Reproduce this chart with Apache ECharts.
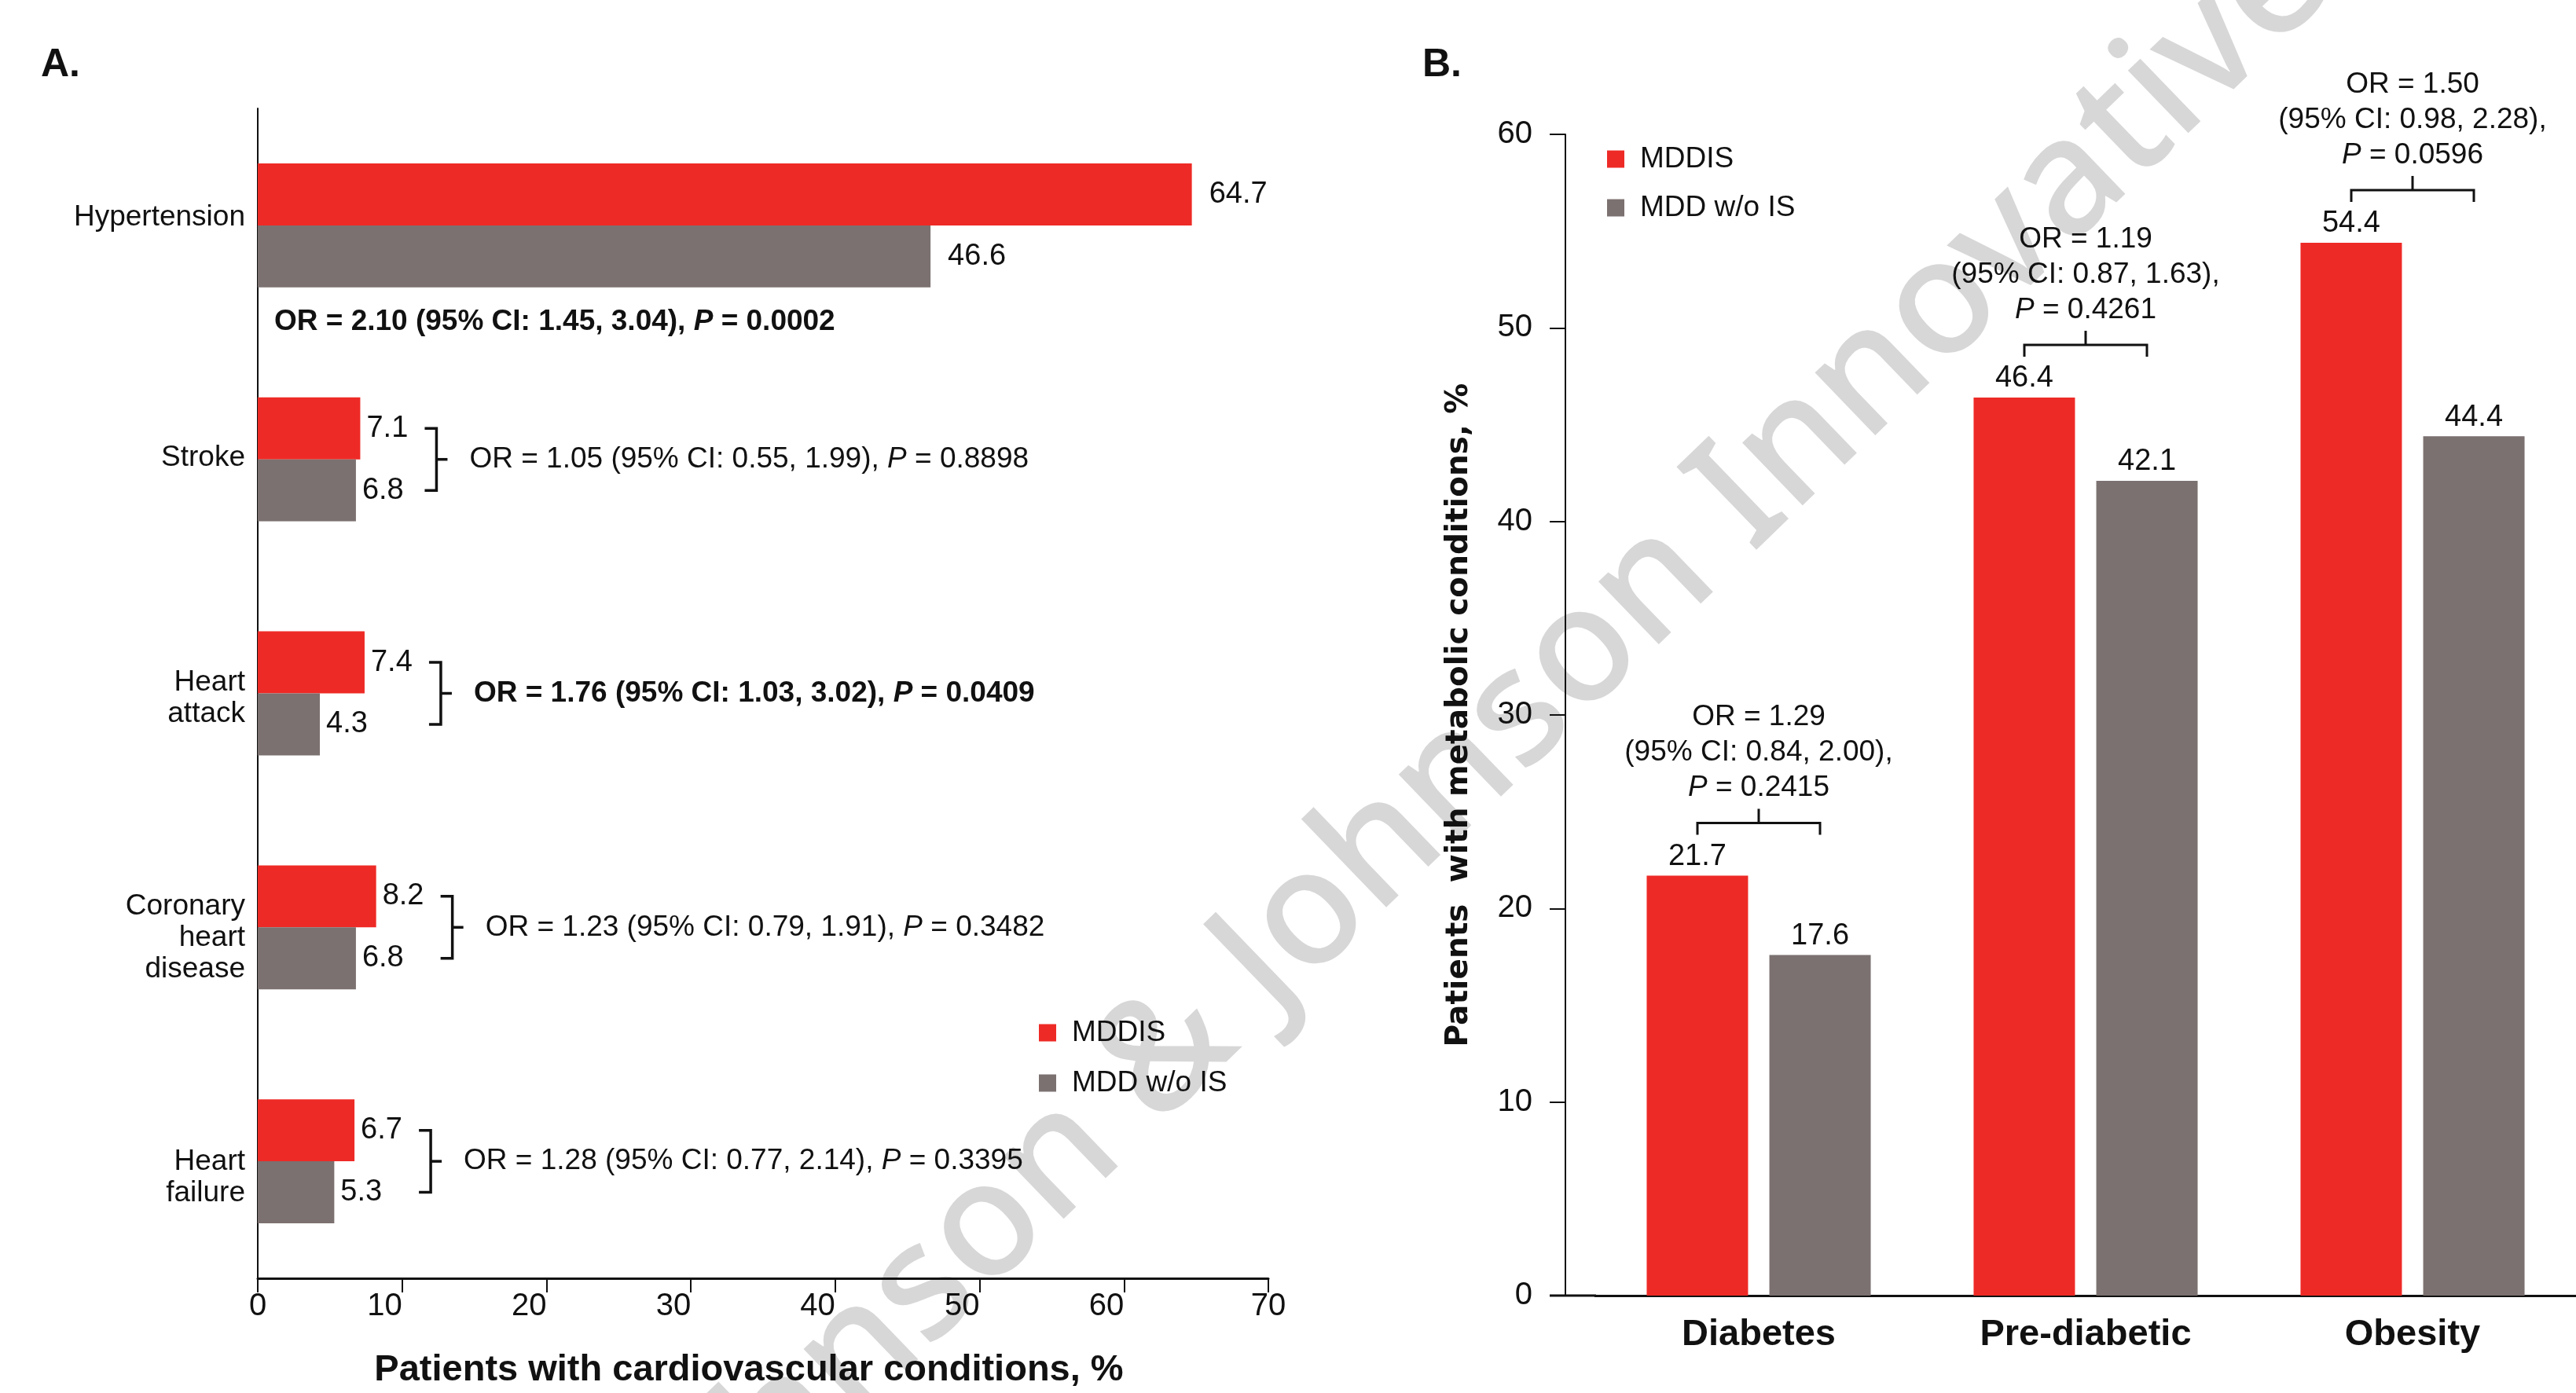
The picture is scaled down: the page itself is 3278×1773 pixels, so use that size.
<!DOCTYPE html>
<html>
<head>
<meta charset="utf-8">
<script src="https://cdn.jsdelivr.net/npm/echarts@6.0.0/dist/echarts.min.js"></script>
<style>
  html, body { margin: 0; padding: 0; background: #fff; }
  #chart { width: 3278px; height: 1773px; }
</style>
</head>
<body>
<div id="chart"></div>
<script>
// panel A: cardiovascular conditions
const catA = ['Hypertension', 'Stroke', 'Heart\nattack', 'Coronary\nheart\ndisease', 'Heart\nfailure'];
const mddisA = [64.7, 7.1, 7.4, 8.2, 6.7];
const mddA = [46.6, 6.8, 4.3, 6.8, 5.3];
const orA = [
  'OR = 2.10 (95% CI: 1.45, 3.04)',
  'OR = 1.05 (95% CI: 0.55, 1.99)',
  'OR = 1.76 (95% CI: 1.03, 3.02)',
  'OR = 1.23 (95% CI: 0.79, 1.91)',
  'OR = 1.28 (95% CI: 0.77, 2.14)'
];
const pA = ['0.0002', '0.8898', '0.0409', '0.3482', '0.3395'];
const boldA = [true, false, true, false, false];
const xTicksA = [0, 10, 20, 30, 40, 50, 60, 70];

// panel B: metabolic conditions
const catB = ['Diabetes', 'Pre-diabetic', 'Obesity'];
const mddisB = [21.7, 46.4, 54.4];
const mddB = [17.6, 42.1, 44.4];
const orB = ['OR = 1.29', 'OR = 1.19', 'OR = 1.50'];
const ciB = ['(95% CI: 0.84, 2.00),', '(95% CI: 0.87, 1.63),', '(95% CI: 0.98, 2.28),'];
const pB = ['0.2415', '0.4261', '0.0596'];
const yTicksB = [0, 10, 20, 30, 40, 50, 60];

const RED = '#EE2A26';
const GREY = '#7B7170';
const INK = '#111111';
const FONT = '"Liberation Sans", Arial, sans-serif';

// 水印
const WM_TEXT = 'Johnson & Johnson Innovative';
const WM_FONT = '"Noto Sans", sans-serif';
const WM_SIZE = 205;

function measure(str, font) {
  const ctx = document.createElement('canvas').getContext('2d');
  ctx.font = font;
  return ctx.measureText(str).width;
}
const wmFont = '500 ' + WM_SIZE + 'px ' + WM_FONT;
// offset so that the "&" sits on the anchor point
const wmShift = measure('Johnson ', wmFont) + measure('&', wmFont) / 2;

// category labels of panel A drift slightly downwards in the original
const catShift = i => Math.round(-10 + 7.75 * i);

const chart = echarts.init(document.getElementById('chart'));

// 类目标签 + 括号 + OR 文本 (panel A)
function renderOrA(params, api) {
  const i = params.dataIndex;
  const band = api.size([0, 1])[1];
  const half = band * 0.1325;
  const p = api.coord([api.value(0), api.value(1)]);
  const p0 = api.coord([0, i]);
  const w = boldA[i] ? 'bold' : 'normal';
  const rich = {
    t: { fontSize: 37, fontFamily: FONT, fontWeight: w, fill: INK },
    i: { fontSize: 37, fontFamily: FONT, fontWeight: w, fontStyle: 'italic', fill: INK }
  };
  const text = '{t|' + orA[i] + ', }{i|P}{t| = ' + pA[i] + '}';
  const children = [
    {
      type: 'text',
      style: {
        x: p0[0] - 16, y: p[1] + catShift(i), text: catA[i], fontSize: 37, lineHeight: 40,
        fontFamily: FONT, fill: INK, align: 'right', verticalAlign: 'middle'
      }
    }
  ];
  if (i === 0) {
    children.push({
      type: 'text',
      style: { x: p0[0] + 21, y: p[1] + band * 0.413, text: text, rich: rich, align: 'left', verticalAlign: 'middle' }
    });
    return { type: 'group', children: children };
  }
  const xb = p[0] + 97;
  children.push(
    {
      type: 'polyline',
      shape: { points: [[xb - 15, p[1] - half], [xb, p[1] - half], [xb, p[1] + half], [xb - 15, p[1] + half]] },
      style: { stroke: INK, lineWidth: 3.5, fill: null }
    },
    {
      type: 'line',
      shape: { x1: xb, y1: p[1], x2: xb + 14, y2: p[1] },
      style: { stroke: INK, lineWidth: 3.5 }
    },
    {
      type: 'text',
      style: { x: xb + 42, y: p[1], text: text, rich: rich, align: 'left', verticalAlign: 'middle' }
    }
  );
  return { type: 'group', children: children };
}

// 括号 + OR 文本 (panel B)
function renderOrB(params, api) {
  const i = params.dataIndex;
  const p = api.coord([api.value(0), api.value(1)]);
  const yb = p[1] - 67;
  const xl = p[0] - 78;
  const xr = p[0] + 78;
  const rich = {
    t: { fontSize: 37, fontFamily: FONT, fill: INK, lineHeight: 45 },
    i: { fontSize: 37, fontFamily: FONT, fontStyle: 'italic', fill: INK, lineHeight: 45 }
  };
  const text = '{t|' + orB[i] + '}\n{t|' + ciB[i] + '}\n{i|P}{t| = ' + pB[i] + '}';
  return {
    type: 'group',
    children: [
      {
        type: 'polyline',
        shape: { points: [[xl, yb + 15], [xl, yb], [xr, yb], [xr, yb + 15]] },
        style: { stroke: INK, lineWidth: 3, fill: null }
      },
      {
        type: 'line',
        shape: { x1: p[0], y1: yb, x2: p[0], y2: yb - 18 },
        style: { stroke: INK, lineWidth: 3 }
      },
      {
        type: 'text',
        style: { x: p[0], y: yb - 22, text: text, rich: rich, align: 'center', verticalAlign: 'bottom' }
      }
    ]
  };
}

const labelA = v => ({ value: v, label: { distance: v > 30 ? 22 : 8 } });

const option = {
  animation: false,
  backgroundColor: '#ffffff',
  textStyle: { fontFamily: FONT, color: INK },
  title: [
    { text: 'A.', left: 52, top: 58, padding: 0, textStyle: { fontSize: 50, fontWeight: 'bold', color: INK, fontFamily: FONT } },
    { text: 'B.', left: 1810, top: 58, padding: 0, textStyle: { fontSize: 50, fontWeight: 'bold', color: INK, fontFamily: FONT } }
  ],
  legend: [
    {
      data: ['MDDIS', 'MDD w/o IS'], orient: 'vertical', left: 1322, top: 1296, padding: 0,
      icon: 'rect', itemWidth: 22, itemHeight: 22, itemGap: 27, selectedMode: false,
      textStyle: { fontSize: 37, color: INK, fontFamily: FONT, padding: [0, 0, 0, 15] }
    },
    {
      data: ['MDDIS', 'MDD w/o IS'], orient: 'vertical', left: 2045, top: 184, padding: 0,
      icon: 'rect', itemWidth: 22, itemHeight: 22, itemGap: 25, selectedMode: false,
      textStyle: { fontSize: 37, color: INK, fontFamily: FONT, padding: [0, 0, 0, 15] }
    }
  ],
  graphic: [
    {
      type: 'group', x: 1486, y: 1342, rotation: 44 * Math.PI / 180, z: -10, silent: true,
      children: [
        {
          type: 'text', x: -wmShift, y: 0,
          style: { text: WM_TEXT, fontSize: WM_SIZE, fontWeight: 500, fontFamily: WM_FONT, fill: '#d6d7d6', align: 'left', verticalAlign: 'middle' }
        }
      ]
    },
    // x-axis line of panel B continues under the offset y-axis
    {
      type: 'line', z: 5, silent: true,
      shape: { x1: 1972, y1: 1649, x2: 2031, y2: 1649 },
      style: { stroke: INK, lineWidth: 3 }
    }
  ],
  grid: [
    { left: 328, top: 138, width: 1286, bottom: 137 },
    { left: 2030, top: 171, right: -6, bottom: 124 }
  ],
  xAxis: [
    {
      type: 'value', gridIndex: 0,
      min: xTicksA[0], max: xTicksA[xTicksA.length - 1], interval: 10,
      axisLine: { show: true, lineStyle: { color: INK, width: 3 } },
      axisTick: { show: true, length: 18, lineStyle: { color: INK, width: 2 } },
      splitLine: { show: false },
      axisLabel: {
        fontSize: 40, color: INK, margin: 16, fontFamily: FONT,
        align: 'right', alignMinLabel: 'center', alignMaxLabel: 'center'
      },
      name: 'Patients with cardiovascular conditions, %',
      nameLocation: 'middle', nameGap: 94,
      nameTextStyle: { fontSize: 47, fontWeight: 'bold', color: INK, fontFamily: FONT, padding: [0, 36, 0, 0] }
    },
    {
      type: 'category', gridIndex: 1, data: catB,
      axisLine: { show: true, lineStyle: { color: INK, width: 3 } },
      axisTick: { show: false },
      axisLabel: { fontSize: 47, fontWeight: 'bold', color: INK, margin: 27, fontFamily: FONT }
    }
  ],
  yAxis: [
    {
      type: 'category', gridIndex: 0, data: catA, inverse: true,
      axisLine: { show: true, lineStyle: { color: INK, width: 2 } },
      axisTick: { show: false },
      axisLabel: { show: false }
    },
    {
      type: 'value', gridIndex: 1, offset: 38,
      min: yTicksB[0], max: yTicksB[yTicksB.length - 1], interval: 10,
      axisLine: { show: true, lineStyle: { color: INK, width: 2 } },
      axisTick: { show: true, length: 20, lineStyle: { color: INK, width: 2 } },
      splitLine: { show: false },
      axisLabel: { fontSize: 40, color: INK, margin: 42, fontFamily: FONT },
      name: 'Patients  with metabolic conditions, %',
      nameLocation: 'middle', nameGap: 116, nameRotate: 90,
      nameTextStyle: { fontSize: 39, fontWeight: 'bold', color: INK, fontFamily: '"DejaVu Sans", sans-serif' }
    }
  ],
  series: [
    {
      name: 'MDDIS', type: 'bar', xAxisIndex: 0, yAxisIndex: 0,
      data: mddisA.map(labelA), itemStyle: { color: RED },
      barGap: '0%', barCategoryGap: '47%',
      label: { show: true, position: 'right', fontSize: 38, color: INK, fontFamily: FONT }
    },
    {
      name: 'MDD w/o IS', type: 'bar', xAxisIndex: 0, yAxisIndex: 0,
      data: mddA.map(labelA), itemStyle: { color: GREY },
      barGap: '0%', barCategoryGap: '47%',
      label: { show: true, position: 'right', fontSize: 38, color: INK, fontFamily: FONT }
    },
    {
      name: 'MDDIS', type: 'bar', xAxisIndex: 1, yAxisIndex: 1,
      data: mddisB, itemStyle: { color: RED },
      barWidth: 129, barGap: '21%',
      label: { show: true, position: 'top', distance: 5, fontSize: 38, color: INK, fontFamily: FONT }
    },
    {
      name: 'MDD w/o IS', type: 'bar', xAxisIndex: 1, yAxisIndex: 1,
      data: mddB, itemStyle: { color: GREY },
      barWidth: 129, barGap: '21%',
      label: { show: true, position: 'top', distance: 5, fontSize: 38, color: INK, fontFamily: FONT }
    },
    {
      type: 'custom', xAxisIndex: 0, yAxisIndex: 0, clip: false, silent: true, z: 3,
      renderItem: renderOrA,
      data: mddisA.map((v, i) => [Math.max(v, mddA[i]), i])
    },
    {
      type: 'custom', xAxisIndex: 1, yAxisIndex: 1, clip: false, silent: true, z: 3,
      renderItem: renderOrB,
      data: mddisB.map((v, i) => [i, Math.max(v, mddB[i])])
    }
  ]
};

chart.setOption(option);
</script>
</body>
</html>
